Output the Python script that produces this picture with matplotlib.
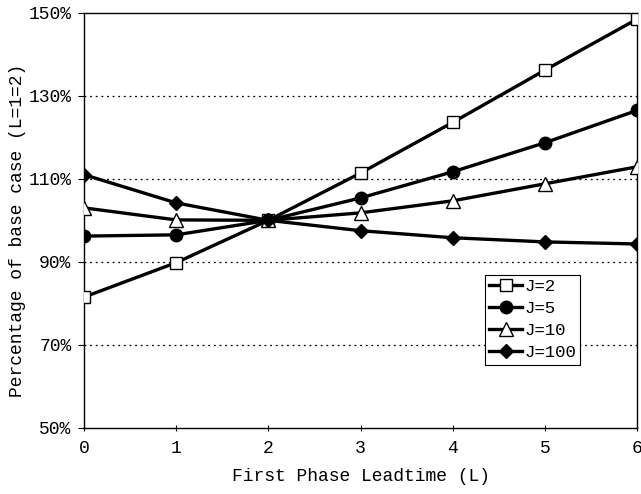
import matplotlib
matplotlib.use("Agg")
from matplotlib import pyplot as plt
from matplotlib.ticker import FuncFormatter

leadtime = [0, 1, 2, 3, 4, 5, 6]
j2 = [81.5, 89.8, 100.0, 111.4, 123.6, 136.2, 148.5]
j5 = [96.2, 96.5, 100.0, 105.4, 111.7, 118.7, 126.5]
j10 = [103.0, 100.1, 100.0, 101.8, 104.7, 108.8, 112.9]
j100 = [111.0, 104.2, 100.0, 97.5, 95.8, 94.8, 94.3]

plt.rcParams['font.family'] = ['Liberation Mono', 'DejaVu Sans Mono']

fig = plt.figure(figsize=(6.41, 4.94), dpi=100)
ax = fig.add_axes([0.131, 0.134, 0.863, 0.840])

lw = 2.4
ax.plot(leadtime, j2, color='black', lw=lw, marker='s', ms=9, mfc='white', mec='black', mew=1, label='J=2', zorder=3)
ax.plot(leadtime, j5, color='black', lw=lw, marker='o', ms=9, mfc='black', mec='black', label='J=5', zorder=3)
ax.plot(leadtime, j10, color='black', lw=lw, marker='^', ms=10, mfc='white', mec='black', mew=1, label='J=10', zorder=3)
ax.plot(leadtime, j100, color='black', lw=lw, marker='D', ms=7, mfc='black', mec='black', label='J=100', zorder=3)

ax.set_xlim(0, 6)
ax.set_ylim(50, 150)
ax.set_xticks(leadtime)
ax.set_yticks([50, 70, 90, 110, 130, 150])
ax.yaxis.set_major_formatter(FuncFormatter(lambda v, p: '%d%%' % v))
for y in [70, 90, 110, 130]:
    ax.axhline(y, color='black', lw=0.9, ls=(0, (1.5, 3)), zorder=1)

ax.tick_params(axis='both', labelsize=13, color='black', length=4)
ax.tick_params(axis='x', direction='inout', pad=7)
ax.tick_params(axis='y', pad=5)
for s in ax.spines.values():
    s.set_linewidth(1.0)

ax.set_xlabel('First Phase Leadtime (L)', fontsize=13, labelpad=8)
ax.set_ylabel('Percentage of base case (L=1=2)', fontsize=13)
ax.yaxis.set_label_coords(-0.104, 0.475)

leg = ax.legend(loc='upper left', bbox_to_anchor=(0.725, 0.369), fontsize=12.5, frameon=True,
                fancybox=False, edgecolor='black', framealpha=1, handlelength=1.9,
                handletextpad=0.1, borderpad=0.25, labelspacing=0.4, borderaxespad=0)
leg.get_frame().set_linewidth(0.8)

fig.savefig('out.png', dpi=100)
